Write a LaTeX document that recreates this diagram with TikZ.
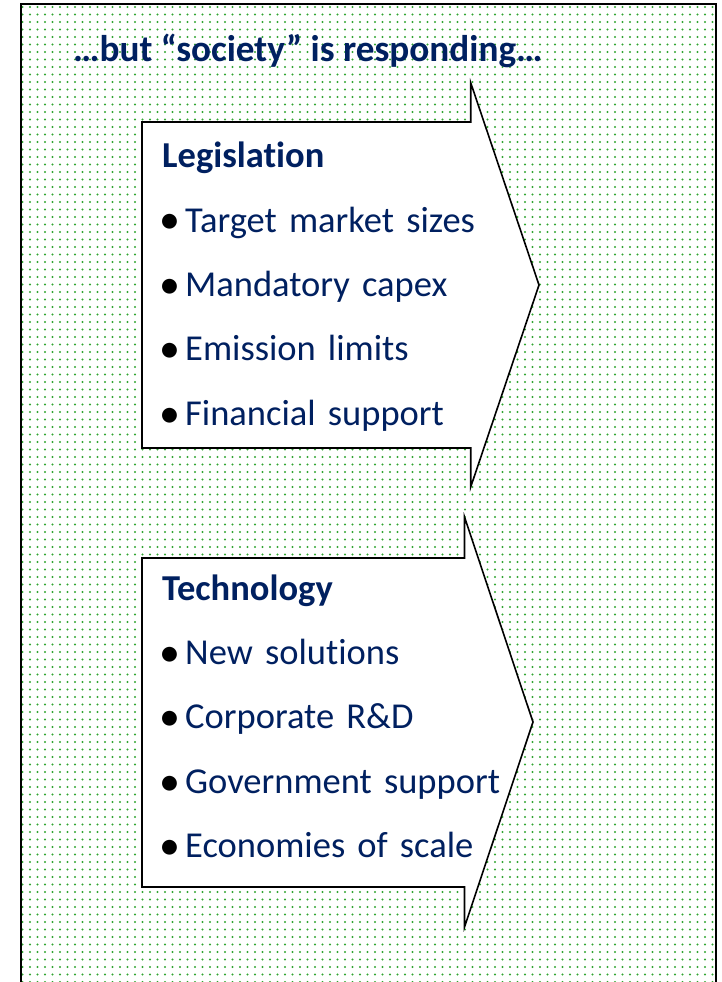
\documentclass[tikz,border=0pt]{standalone}
\usepackage{fontspec}
\setmainfont{Carlito}[Ligatures=NoCommon]
\usepackage{tikz}
\usetikzlibrary{positioning, patterns.meta}
\definecolor{navy}{RGB}{0,32,96}
\definecolor{dotgreen}{RGB}{50,165,50}
\tikzdeclarepattern{
  name=greendots,
  type=uncolored,
  bottom left={(-3.75pt,-3.75pt)},
  top right={(3.75pt,3.75pt)},
  tile size={(7.5pt,7.5pt)},
  code={\fill (0pt,0pt) circle (1.15pt);}
}
\tikzstyle{panel} = [pattern=greendots, pattern color=dotgreen]
\tikzstyle{frame} = [draw, line width=2pt]
\tikzstyle{bigarrow} = [draw, fill=white, line width=1.6pt, line join=miter]
\tikzstyle{title} = [anchor=base west, inner sep=0pt, text=navy,
    font=\fontsize{37.2}{44}\selectfont\bfseries]
\tikzstyle{heading} = [text width=420pt, text height=27pt, text depth=9pt,
    inner sep=0pt, align=left, text=navy, font=\fontsize{36.5}{44}\selectfont\bfseries]
\tikzstyle{item} = [heading, font=\fontsize{36.5}{44}\selectfont]
\newcommand{\bull}{\makebox[23pt][l]{\hspace{-3pt}\color{black}\raisebox{-1.8pt}{\scalebox{1.15}{\textbullet}}}}

\begin{document}
\begin{tikzpicture}[x=1pt, y=-1pt, node distance=64.4pt, on grid]
        \useasboundingbox (0,0) rectangle (721,982);
        % Background
        \fill [panel] (21,4) rectangle (716,982);
        \path [frame] (21,982) -- (21,4) -- (716,4) -- (716,982);
        % Arrows
        \path [bigarrow] (142,122) -- (470.7,122) -- (470.7,82.7) -- (539,285)
            -- (470.7,487) -- (470.7,448) -- (142,448) -- cycle;
        \path [bigarrow] (142,558) -- (464.5,558) -- (464.5,517) -- (533,722)
            -- (464.5,927) -- (464.5,887) -- (142,887) -- cycle;
        % Place nodes
        \node [title] (title) at (73,61.7) {…but “society” is responding…};
        \node [heading, anchor=base west] (legis) at (162,167.7) {Legislation};
        \node [item, below=of legis] (target) {\bull Target market sizes};
        \node [item, below=of target] (capex) {\bull Mandatory capex};
        \node [item, below=of capex] (emission) {\bull Emission limits};
        \node [item, below=of emission] (finance) {\bull Financial support};
        \node [heading, anchor=base west] (techno) at (162,600) {Technology};
        \node [item, below=of techno] (solutions) {\bull New solutions};
        \node [item, below=of solutions] (randd) {\bull Corporate R\&D};
        \node [item, below=of randd] (govsup) {\bull Government support};
        \node [item, below=of govsup] (scale) {\bull Economies of scale};
\end{tikzpicture}
\end{document}
